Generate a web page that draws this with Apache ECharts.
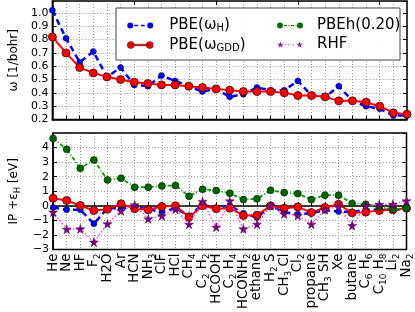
<!DOCTYPE html>
<html><head><meta charset="utf-8">
<script src="https://cdn.jsdelivr.net/npm/echarts@6/dist/echarts.min.js"></script>
<style>html,body{margin:0;padding:0;background:#fff}#c{width:415px;height:312px}</style>
</head><body><div id="c"></div>
<script>
var categories = ['He','Ne','HF','F_2','H2O','Ar','HCN','NH_3','ClF','HCl','CH_4','C_2 H_2','HCOOH','C_2 H_4','HCONH_2','ethane','H_2 S','CH_3 Cl','Cl_2','propane','CH_3 SH','Xe','butane','C_6 H_6','C_10 H_8','Li_2','Na_2'];
var omegaH   = [1.02,0.81,0.63,0.71,0.52,0.59,0.46,0.45,0.53,0.49,0.45,0.41,0.43,0.37,0.39,0.44,0.42,0.42,0.49,0.38,0.37,0.45,0.34,0.30,0.28,0.23,0.23];
var omegaGDD = [0.82,0.70,0.59,0.55,0.52,0.50,0.48,0.47,0.46,0.46,0.45,0.44,0.43,0.42,0.41,0.41,0.41,0.40,0.38,0.38,0.37,0.34,0.34,0.33,0.30,0.25,0.24];
var ipH    = [-0.11,-0.27,-0.27,-1.23,-0.16,-0.16,-0.10,-0.22,-0.43,-0.16,-0.68,0.07,-0.13,0.00,-0.50,-0.80,0.00,-0.43,-0.57,-0.50,-0.30,-0.39,-0.43,-0.27,-0.27,-0.27,-0.22];
var ipGDD  = [0.52,0.37,0.02,-0.32,-0.23,0.14,-0.20,-0.27,-0.05,0.00,-0.77,0.00,-0.20,-0.16,-0.66,-0.64,0.00,-0.16,-0.07,-0.46,-0.11,0.11,-0.48,-0.43,-0.32,-0.27,-0.16];
var ipPBEh = [4.63,3.88,2.58,3.15,1.78,1.90,1.28,1.28,1.37,1.40,0.66,1.14,1.05,0.87,0.43,0.48,1.07,0.91,0.84,0.43,0.73,0.73,0.16,0.11,-0.07,-0.23,-0.14];
var ipRHF  = [-0.43,-1.60,-1.58,-2.49,-1.23,-0.34,0.07,-0.89,-0.68,-0.23,-1.26,0.30,-1.46,0.34,-1.58,-1.26,0.02,-0.55,-0.66,-1.26,-0.27,-0.05,-1.35,0.00,0.11,0.11,0.34];
var ticksTop = [0.2,0.3,0.4,0.5,0.6,0.7,0.8,0.9,1.0];
var ticksBottom = [-3,-2,-1,0,1,2,3,4];

var FONT = 'DejaVu Sans';
var STAR = 'path://M50,0 L61,35 L98,35 L68,57 L79,91 L50,70 L21,91 L32,57 L2,35 L39,35 Z';
function circ(cx,cy,r){return 'M'+(cx-r)+','+cy+' A'+r+','+r+' 0 1,1 '+(cx+r)+','+cy+' A'+r+','+r+' 0 1,1 '+(cx-r)+','+cy+' Z ';}
function rect(x0,x1,y0,y1){return 'M'+x0+','+y0+' L'+x1+','+y0+' L'+x1+','+y1+' L'+x0+','+y1+' Z ';}
function star(ox){var p=[[3.5,0],[4.27,2.45],[6.86,2.45],[4.76,3.99],[5.53,6.37],[3.5,4.9],[1.47,6.37],[2.24,3.99],[0.14,2.45],[2.73,2.45]];
  return 'M'+p.map(function(q){return (q[0]+ox).toFixed(2)+','+q[1];}).join(' L')+' Z ';}
var ICON_H = 'path://' + circ(3,3.2,3) + rect(7,11,2.4,4.0) + rect(13.5,17.5,2.4,4.0) + circ(23,3.2,3);
var ICON_GDD = 'path://' + circ(3.5,3.5,3.5) + rect(3.5,22.5,2.7,4.3) + circ(22.5,3.5,3.5);
var ICON_PBEH = 'path://' + circ(3,3.2,3) + rect(7,10,2.6,3.8) + rect(11.5,12.6,2.6,3.8) + rect(14,17,2.6,3.8) + rect(18.5,19.6,2.6,3.8) + circ(23,3.2,3);
var ICON_RHF = 'path://' + star(0) + rect(8.5,9.5,3.1,4.0) + rect(11,12,3.1,4.0) + rect(13.5,14.5,3.1,4.0) + rect(16,17,3.1,4.0) + star(19);

function richLabel(s){
  var out = '', re = /_(\d+)/g, last = 0, m;
  while ((m = re.exec(s)) !== null){
    if (m.index > last) out += '{n|' + s.slice(last, m.index) + '}';
    out += '{s|' + m[1] + '}';
    last = re.lastIndex;
  }
  if (last < s.length) out += '{n|' + s.slice(last) + '}';
  return out;
}
var legendNames = {
  'PBE(ωH)': '{n|PBE(ω}{s|H}{n|)}',
  'PBE(ωGDD)': '{n|PBE(ω}{s|GDD}{n|)}',
  'PBEh(0.20)': '{n|PBEh(0.20)}',
  'RHF': '{n|RHF}'
};
var grid = [{left:39,right:8,top:1,height:118.5,show:true,borderColor:'#000',borderWidth:1.5,z:3},
            {left:39,right:8,top:133,height:118,show:true,borderColor:'#000',borderWidth:1.5,z:3}];
var split = {show:true,lineStyle:{color:'#999',type:[1,2],width:1}};
function xAx(i, showLabel){
  return {type:'category',gridIndex:i,data:categories,boundaryGap:false,
    axisLine:{lineStyle:{color:'#000',width:1.5}},
    axisTick:{inside:true,length:4,lineStyle:{color:'#000'}},
    splitLine:split,
    axisLabel:{show:showLabel,rotate:90,margin:4,interval:0,color:'#000',
      formatter:function(v){return richLabel(v);},
      rich:{n:{fontFamily:FONT,fontSize:13.3,lineHeight:17,color:'#000'},
            s:{fontFamily:FONT,fontSize:9,lineHeight:17,verticalAlign:'bottom',color:'#000'}}}};
}
function xTop(i){
  return {type:'category',gridIndex:i,data:categories,boundaryGap:false,position:'top',
    axisLine:{show:false},axisTick:{inside:true,length:4,lineStyle:{color:'#000'}},
    axisLabel:{show:false},splitLine:{show:false}};
}
function yRight(i,min,max,itv){
  return {type:'value',gridIndex:i,min:min,max:max,interval:itv,position:'right',
    axisLine:{show:false},axisTick:{show:true,inside:true,length:4,lineStyle:{color:'#000'}},
    axisLabel:{show:false},splitLine:{show:false}};
}
var nameRich = {n:{fontFamily:FONT,fontSize:12,lineHeight:16,color:'#000'},
                s:{fontFamily:FONT,fontSize:8.5,lineHeight:16,verticalAlign:'bottom',color:'#000'}};
var legRich = {n:{fontFamily:FONT,fontSize:15,lineHeight:16,color:'#000'},
               s:{fontFamily:FONT,fontSize:10,lineHeight:16,verticalAlign:'bottom',color:'#000'}};
var option = {
  animation:false,
  grid:grid,
  xAxis:[xAx(0,false), xAx(1,true), xTop(0), xTop(1)],
  yAxis:[
    {type:'value',gridIndex:0,min:ticksTop[0],max:1.09,interval:0.1,
     name:'{n|ω [1/bohr]}',nameLocation:'middle',nameGap:22,nameTextStyle:{rich:nameRich},
     axisLine:{show:true,lineStyle:{color:'#000',width:1.5}},
     axisTick:{show:true,inside:true,length:4,lineStyle:{color:'#000'}},
     axisLabel:{showMaxLabel:false,margin:4,fontFamily:FONT,fontSize:11,color:'#000',
       formatter:function(v){return v.toFixed(1);}},
     splitLine:split},
    {type:'value',gridIndex:1,min:ticksBottom[0],max:5,interval:1,
     name:'{n|IP +ε}{s|H}{n| [eV]}',nameLocation:'middle',nameGap:22,nameTextStyle:{rich:nameRich},
     axisLine:{show:true,lineStyle:{color:'#000',width:1.5}},
     axisTick:{show:true,inside:true,length:4,lineStyle:{color:'#000'}},
     axisLabel:{showMaxLabel:false,margin:4,fontFamily:FONT,fontSize:11,color:'#000',
       formatter:function(v){return v<0?'\u2212'+Math.abs(v):String(v);}},
     splitLine:split},
    yRight(0,0.2,1.09,0.1),
    yRight(1,-3,5,1)
  ],
  graphic:[{type:'rect',shape:{x:116,y:8,width:284,height:52},z:50,
    style:{fill:'rgba(255,255,255,0.95)',stroke:'#444',lineWidth:1}}],
  legend:[
    {data:[{name:'PBE(ωH)',icon:ICON_H,itemStyle:{color:'#0000ff',borderWidth:0}},
           {name:'PBE(ωGDD)',icon:ICON_GDD,itemStyle:{color:'#ff0000',borderColor:'#400000',borderWidth:0.5}}],
     orient:'vertical',left:122,top:13,itemWidth:26,itemHeight:7,itemGap:4,z:60,
     formatter:function(n){return legendNames[n];},
     textStyle:{padding:[0,0,0,11],rich:legRich}},
    {data:[{name:'PBEh(0.20)',icon:ICON_PBEH,itemStyle:{color:'#007000',borderWidth:0}},
           {name:'RHF',icon:ICON_RHF,itemStyle:{color:'#9020a0',borderWidth:0}}],
     orient:'vertical',left:272,top:13,itemWidth:26,itemHeight:7,itemGap:4,z:60,
     formatter:function(n){return legendNames[n];},
     textStyle:{padding:[0,0,0,9],rich:legRich}}
  ],
  series:[
    {name:'PBE(ωH)',type:'line',xAxisIndex:0,yAxisIndex:0,data:omegaH,symbol:'circle',symbolSize:6,
     lineStyle:{color:'#0000ff',width:2.5,type:[6,4]},itemStyle:{color:'#0000ff',borderColor:'#000033',borderWidth:0.5},z:4},
    {name:'PBE(ωGDD)',type:'line',xAxisIndex:0,yAxisIndex:0,data:omegaGDD,symbol:'circle',symbolSize:8,
     lineStyle:{color:'#ff0000',width:2},itemStyle:{color:'#ff0000',borderColor:'#400000',borderWidth:0.8},z:5},
    {name:'PBE(ωH)',type:'line',xAxisIndex:1,yAxisIndex:1,data:ipH,symbol:'circle',symbolSize:6,
     lineStyle:{color:'#0000ff',width:2.5,type:[6,4]},itemStyle:{color:'#0000ff',borderColor:'#000033',borderWidth:0.5},z:4},
    {name:'PBE(ωGDD)',type:'line',xAxisIndex:1,yAxisIndex:1,data:ipGDD,symbol:'circle',symbolSize:8,
     lineStyle:{color:'#ff0000',width:2},itemStyle:{color:'#ff0000',borderColor:'#400000',borderWidth:0.8},z:5},
    {name:'PBEh(0.20)',type:'line',xAxisIndex:1,yAxisIndex:1,data:ipPBEh,symbol:'circle',symbolSize:7,
     lineStyle:{color:'#00a000',width:1.8,type:[4,2,1,2]},itemStyle:{color:'#006400',borderColor:'#002000',borderWidth:0.6},z:6},
    {name:'RHF',type:'line',xAxisIndex:1,yAxisIndex:1,data:ipRHF,symbol:STAR,symbolSize:9,
     lineStyle:{color:'#ff40ff',width:1.5,type:[1.5,2]},itemStyle:{color:'#800080',borderColor:'#400040',borderWidth:0.5},z:7}
  ]
};
var chart = echarts.init(document.getElementById('c'),null,{renderer:'canvas'});
chart.setOption(option);
</script></body></html>
